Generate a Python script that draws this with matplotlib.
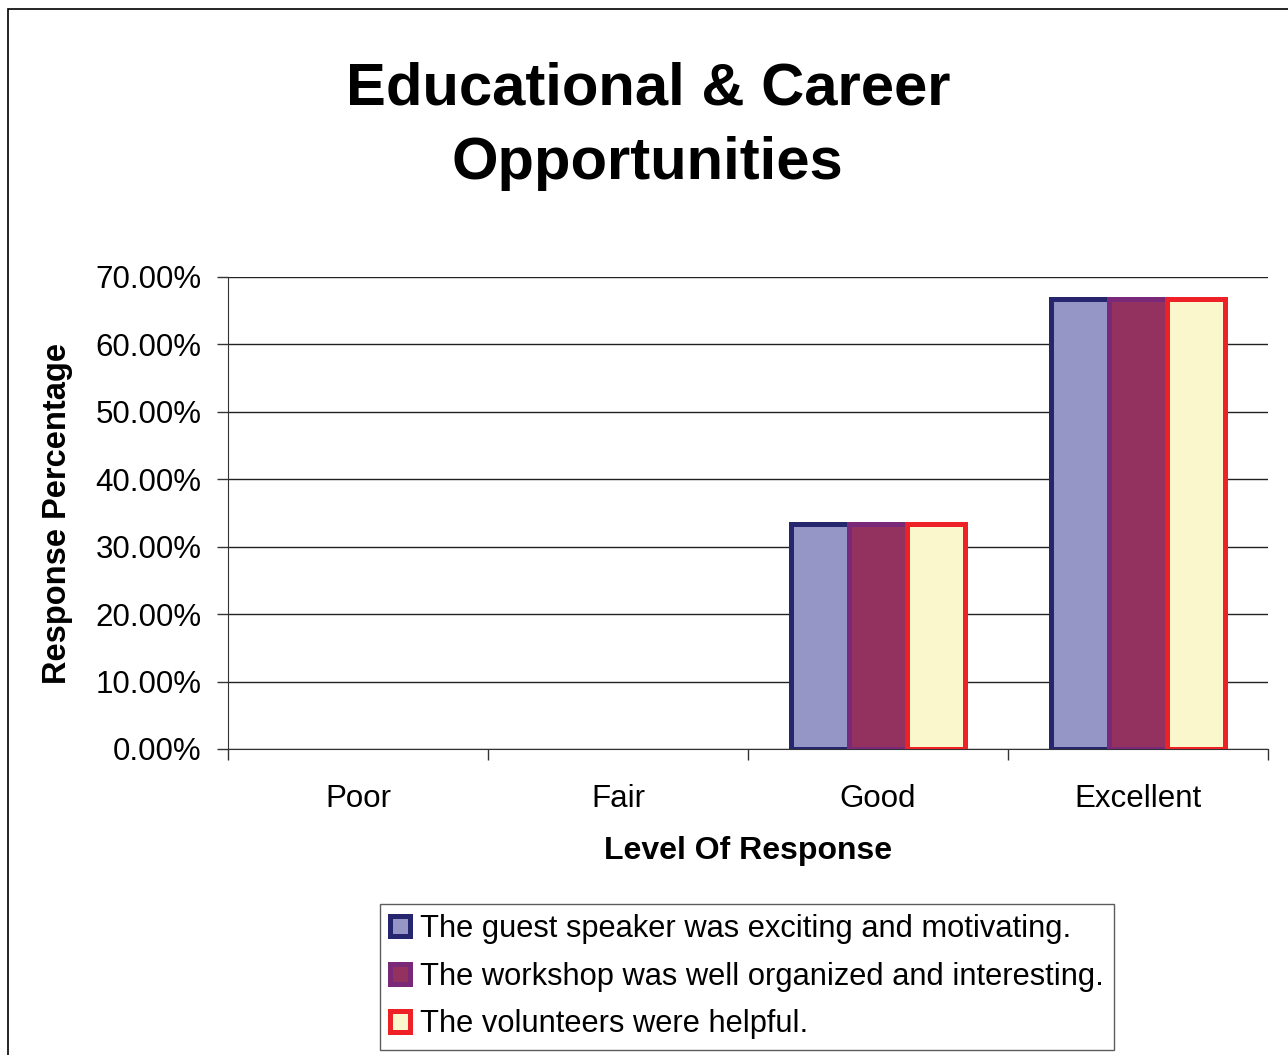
import numpy as np
import matplotlib
matplotlib.use("Agg")
import matplotlib.pyplot as plt
from matplotlib.patches import Patch, Rectangle
from matplotlib.ticker import FuncFormatter, FixedLocator

plt.rcParams['font.family'] = ['Liberation Sans', 'DejaVu Sans']

# données
categories = ["Poor", "Fair", "Good", "Excellent"]
series_names = [
    "The guest speaker was exciting and motivating.",
    "The workshop was well organized and interesting.",
    "The volunteers were helpful.",
]
guest_speaker = [0.0, 0.0, 33.33, 66.67]
workshop = [0.0, 0.0, 33.33, 66.67]
volunteers = [0.0, 0.0, 33.33, 66.67]

faces = ["#9595C6", "#93325E", "#FAF7CC"]
edges = ["#26266E", "#7A2878", "#EE2226"]

fig = plt.figure(figsize=(12.88, 10.55), dpi=100)
ax = fig.add_axes([228 / 1288, 1 - 749 / 1055, 1040 / 1288, 472 / 1055])

# cadre de la figure (coupé à droite et en bas comme l'original)
fig.patches.append(Rectangle((8 / 1288, -0.05), 1.2, 1 - 9 / 1055 + 0.05,
                             transform=fig.transFigure, fill=False,
                             edgecolor="black", linewidth=1.2, clip_on=False))

x = np.arange(len(categories))
w = 0.223
for i, vals in enumerate([guest_speaker, workshop, volunteers]):
    bars = ax.bar(x + (i - 1) * w, vals, w, color=faces[i], edgecolor=edges[i],
                  linewidth=3.6, zorder=3)
    for b, v in zip(bars, vals):
        if v == 0:
            b.set_visible(False)

ax.set_xlim(-0.5, len(categories) - 0.5)
ax.set_ylim(0, 70)
ax.set_yticks(np.arange(0, 71, 10))
ax.yaxis.set_major_formatter(FuncFormatter(lambda v, p: f"{v:.2f}%"))
ax.yaxis.grid(True, color="#222222", linewidth=1.0, zorder=0)
ax.set_axisbelow(True)

# graduations entre les catégories, étiquettes au centre
ax.xaxis.set_major_locator(FixedLocator(np.arange(-0.5, len(categories), 1.0)))
ax.xaxis.set_minor_locator(FixedLocator(x))
ax.set_xticklabels([], minor=False)
ax.set_xticklabels(categories, minor=True)
ax.tick_params(axis='x', which='major', length=8, width=1, color="#333333")
ax.tick_params(axis='x', which='minor', length=0, pad=25, labelsize=22.5)
ax.tick_params(axis='y', length=8, width=1, pad=11, labelsize=22.5, color="#333333")

for s in ["top", "right"]:
    ax.spines[s].set_visible(False)
ax.spines["left"].set_color("#333333")
ax.spines["bottom"].set_color("#333333")

fig.text(0.503, 1 - 126 / 1055, "Educational & Career\nOpportunities",
         ha="center", va="center", fontsize=43, fontweight="bold", linespacing=1.45)
fig.text(748 / 1288, 1 - 851 / 1055, "Level Of Response", ha="center", va="center",
         fontsize=23, fontweight="bold")
fig.text(58 / 1288, 1 - 513 / 1055, "Response Percentage", ha="center", va="center",
         fontsize=23.5, fontweight="bold", rotation=90)

handles = [Patch(facecolor=faces[i], edgecolor=edges[i], linewidth=3.6) for i in range(3)]
leg = fig.legend(handles, series_names, loc="upper left",
                 bbox_to_anchor=(380 / 1288, 1 - 904 / 1055), fontsize=22.2,
                 frameon=True, fancybox=False, borderpad=0.33, handlelength=0.63,
                 handleheight=0.63, handletextpad=0.35, labelspacing=0.57,
                 borderaxespad=0)
leg.get_frame().set_edgecolor("#333333")
leg.get_frame().set_linewidth(1.0)

fig.savefig("out.png", dpi=100)
